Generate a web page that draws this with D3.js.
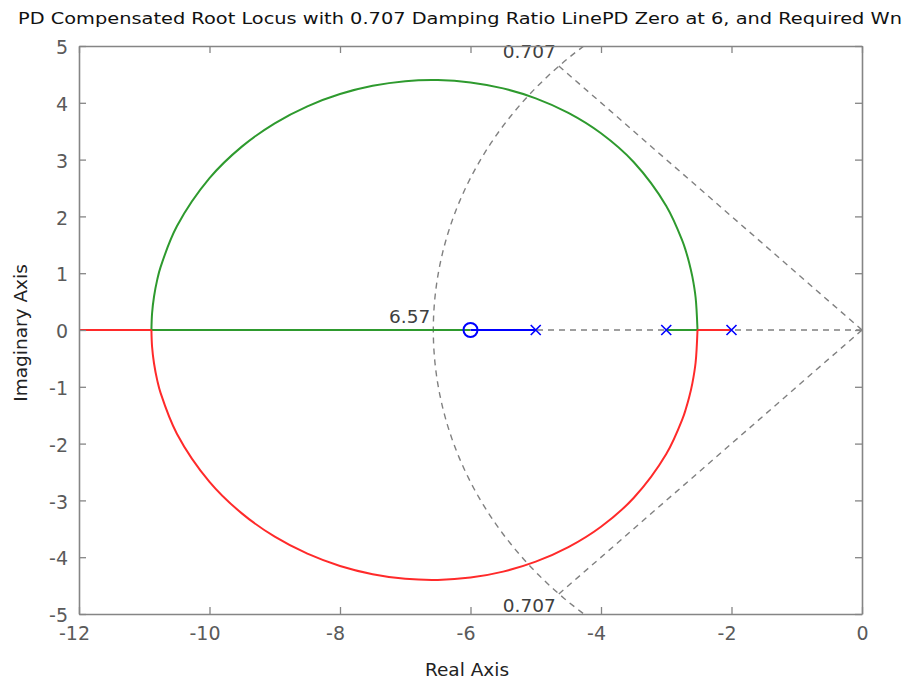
<!DOCTYPE html>
<html><head><meta charset="utf-8">
<script src="https://cdn.jsdelivr.net/npm/d3@7/dist/d3.min.js"></script>
<style>body{margin:0;background:#fff}svg{display:block}</style>
</head><body>
<svg id="c" width="911" height="686"></svg>
<script>
// ---------- data ----------
const titleText = "PD Compensated Root Locus with 0.707 Damping Ratio LinePD Zero at 6, and Required Wn";
const xTicks = [-12, -10, -8, -6, -4, -2, 0];
const yTicks = [-5, -4, -3, -2, -1, 0, 1, 2, 3, 4, 5];
const poles = [-5, -3, -2];
const zeros = [-6];
// upper complex branch (real, imag) from breakaway to break-in
const arcReal = [-2.521, -2.55, -2.6, -2.65, -2.7, -2.75, -3, -3.5, -4, -4.5, -5, -5.5, -6, -6.5, -7, -7.5, -8, -8.5, -9, -9.5, -10, -10.5, -10.75, -10.8, -10.85, -10.88, -10.89];
const arcImag = [0, 0.572, 0.939, 1.19, 1.391, 1.561, 2.184, 2.958, 3.464, 3.823, 4.079, 4.254, 4.359, 4.40, 4.381, 4.299, 4.154, 3.938, 3.639, 3.233, 2.673, 1.825, 1.107, 0.891, 0.59, 0.295, 0];
// real-axis pieces of each branch
const blueReal = [-5, -6];
const greenStartReal = [-3, -2.521];
const greenEndReal = [-10.89, -6];
const redStartReal = [-2, -2.521];
const redEndReal = [-10.89, -12];
// grid values
const zeta = 0.707;
const wn = 6.57;
const zetaLineRadius = 6.62;

// ---------- setup ----------
const svg = d3.select("#c");
const x = d3.scaleLinear().domain([-12, 0]).range([79, 862]);
const y = d3.scaleLinear().domain([-5, 5]).range([614, 46]);
const font = "'DejaVu Sans', sans-serif";

svg.append("defs").append("clipPath").attr("id", "clip")
  .append("rect").attr("x", x(-12)).attr("y", y(5)).attr("width", x(0) - x(-12)).attr("height", y(-5) - y(5));

const plot = svg.append("g").attr("clip-path", "url(#clip)");
const line = d3.line().x(d => x(d[0])).y(d => y(d[1]));
const smooth = d3.line().x(d => x(d[0])).y(d => y(d[1])).curve(d3.curveCatmullRom.alpha(0.5));

// ---------- grid (dashed) ----------
const gridStyle = s => s.attr("fill", "none").attr("stroke", "#808080").attr("stroke-width", 1.4).attr("stroke-dasharray", "6,5");
plot.append("path").datum([[0, 0], [-12, 0]]).attr("d", line).call(gridStyle);
const th = Math.acos(zeta);
[1, -1].forEach(sgn => {
  plot.append("path").datum([[0, 0], [-zetaLineRadius * Math.cos(th), sgn * zetaLineRadius * Math.sin(th)]])
    .attr("d", line).call(gridStyle);
});
const angs = d3.range(90, 270.5, 1).map(a => a * Math.PI / 180);
plot.append("path").datum(angs.map(a => [wn * Math.cos(a), wn * Math.sin(a)])).attr("d", line).call(gridStyle);

// ---------- locus ----------
const upper = arcReal.map((r, i) => [r, arcImag[i]]);
const lower = arcReal.map((r, i) => [r, -arcImag[i]]);
const green = "#2e9a2e", red = "#ff2a2a", blue = "#0000ff";
const lw = 2;
const stroke = (s, c) => s.attr("fill", "none").attr("stroke", c).attr("stroke-width", lw).attr("stroke-linejoin", "round");
plot.append("path").datum(greenStartReal.map(v => [v, 0])).attr("d", line).call(stroke, green);
plot.append("path").datum(upper).attr("d", smooth).call(stroke, green);
plot.append("path").datum(greenEndReal.map(v => [v, 0])).attr("d", line).call(stroke, green);
plot.append("path").datum(redStartReal.map(v => [v, 0])).attr("d", line).call(stroke, red);
plot.append("path").datum(lower).attr("d", smooth).call(stroke, red);
plot.append("path").datum(redEndReal.map(v => [v, 0])).attr("d", line).call(stroke, red);
plot.append("path").datum(blueReal.map(v => [v, 0])).attr("d", line).call(stroke, blue);

// markers
const ms = 5;
poles.forEach(p => {
  const cx = x(p), cy = y(0);
  plot.append("path").attr("d", `M${cx - ms},${cy - ms}L${cx + ms},${cy + ms}M${cx - ms},${cy + ms}L${cx + ms},${cy - ms}`)
    .attr("stroke", blue).attr("stroke-width", 1.6).attr("fill", "none");
});
zeros.forEach(z => {
  plot.append("circle").attr("cx", x(z)).attr("cy", y(0)).attr("r", 7).attr("fill", "none").attr("stroke", blue).attr("stroke-width", 2);
});

// grid labels
const lblColor = "#404040";
svg.append("text").attr("x", x(-5.1)).attr("y", y(4.79)).attr("text-anchor", "middle").attr("font-family", font).attr("font-size", 18.5).attr("fill", lblColor).text(String(zeta));
svg.append("text").attr("x", x(-5.1)).attr("y", y(-4.965)).attr("text-anchor", "middle").attr("font-family", font).attr("font-size", 18.5).attr("fill", lblColor).text(String(zeta));
svg.append("text").attr("x", x(-wn) - 3).attr("y", y(0.12)).attr("text-anchor", "end").attr("font-family", font).attr("font-size", 18.5).attr("fill", lblColor).text(String(wn));

// ---------- axes ----------
const axisColor = "#858585", tickColor = "#5a5a5a";
const tk = 7;
const gx = svg.append("g").attr("transform", `translate(0,${y(-5)})`)
  .call(d3.axisBottom(x).tickValues(xTicks).tickSizeInner(-tk).tickSizeOuter(0).tickPadding(12).tickFormat(d3.format("d")));
const gxt = svg.append("g").attr("transform", `translate(0,${y(5)})`)
  .call(d3.axisTop(x).tickValues(xTicks).tickSizeInner(-tk).tickSizeOuter(0).tickFormat(""));
const gy = svg.append("g").attr("transform", `translate(${x(-12)},0)`)
  .call(d3.axisLeft(y).tickValues(yTicks).tickSizeInner(-tk).tickSizeOuter(0).tickPadding(11).tickFormat(d3.format("d")));
const gyr = svg.append("g").attr("transform", `translate(${x(0)},0)`)
  .call(d3.axisRight(y).tickValues(yTicks).tickSizeInner(-tk).tickSizeOuter(0).tickFormat(""));
[gx, gxt, gy, gyr].forEach(g => {
  g.select(".domain").attr("stroke", axisColor).attr("stroke-width", 1.6);
  g.selectAll(".tick line").attr("stroke", axisColor).attr("stroke-width", 1.3);
  g.selectAll(".tick text").attr("font-family", font).attr("font-size", 19).attr("fill", tickColor);
});
gx.selectAll(".tick text").attr("dy", "0.75em").attr("dx", d => d < 0 ? -5 : 0).text(d => d < 0 ? "-" + Math.abs(d) : String(d));
gy.selectAll(".tick text").attr("dy", "0.4em").text(d => d < 0 ? "-" + Math.abs(d) : String(d));

// titles
svg.append("text").attr("x", 460).attr("y", 24).attr("text-anchor", "middle").attr("font-family", font).attr("font-size", 15.5)
  .attr("fill", "#111").attr("textLength", 884).attr("lengthAdjust", "spacingAndGlyphs").text(titleText);
svg.append("text").attr("x", 467).attr("y", 676).attr("text-anchor", "middle").attr("font-family", font).attr("font-size", 18.5)
  .attr("fill", "#222").text("Real Axis");
svg.append("text").attr("transform", "translate(27,333) rotate(-90)").attr("text-anchor", "middle").attr("font-family", font).attr("font-size", 18.5)
  .attr("fill", "#222").text("Imaginary Axis");
</script>
</body></html>
